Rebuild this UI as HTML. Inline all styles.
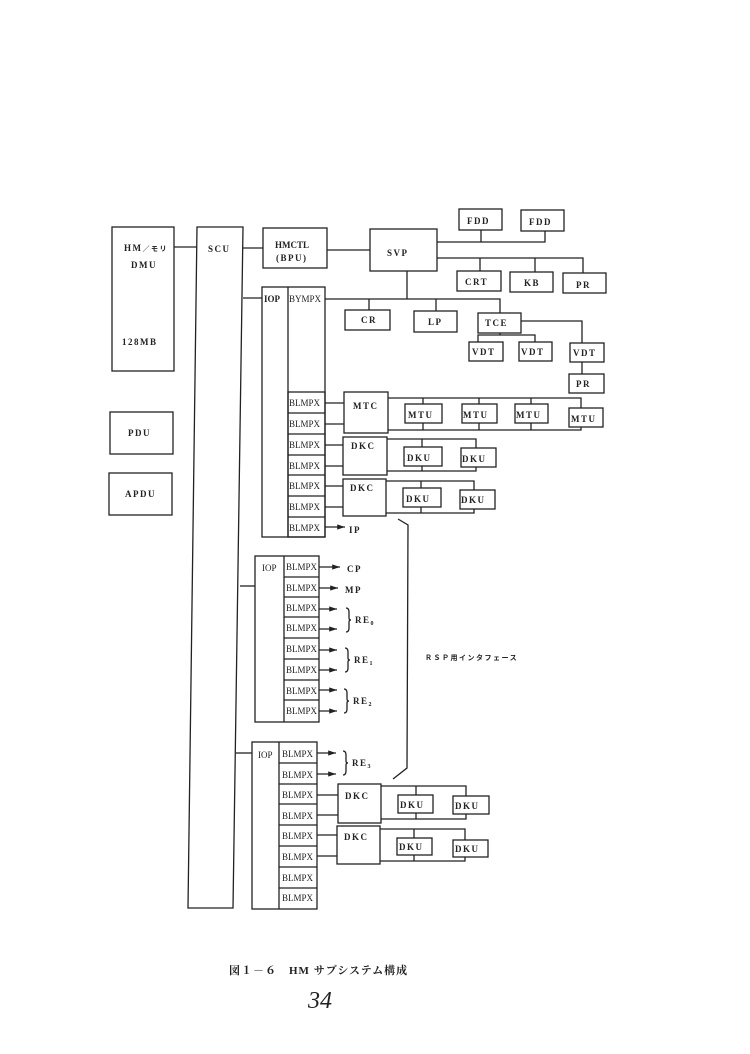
<!DOCTYPE html>
<html><head><meta charset="utf-8"><style>
html,body{margin:0;padding:0;background:#fff;}
svg{display:block;}
text{font-family:"Liberation Serif","Noto Serif CJK SC",serif;font-size:9px;fill:#222;}
.b{font-weight:bold;letter-spacing:1.5px;}
</style></head><body>
<svg width="750" height="1054" viewBox="0 0 750 1054" xmlns="http://www.w3.org/2000/svg">
<defs><marker id="a" markerWidth="6" markerHeight="4" refX="6" refY="2" orient="auto"><path d="M0,0 L6,2 L0,4 z" fill="#222"/></marker></defs>
<g fill="none" stroke="#222" stroke-width="1.3">
<!-- HM -->
<rect x="112" y="227" width="62" height="144"/>
<rect x="110" y="412" width="63" height="42"/>
<rect x="109" y="473" width="63" height="42"/>
<!-- SCU -->
<polygon points="197,227 243,227 233,908 188,908"/>
<line x1="174" y1="247" x2="197" y2="247"/>
<line x1="243" y1="248" x2="263" y2="248"/>
<rect x="263" y="228" width="64" height="40"/>
<line x1="327" y1="250" x2="370" y2="250"/>
<rect x="370" y="229" width="67" height="42"/>
<!-- FDD -->
<rect x="459" y="209" width="43" height="21"/>
<rect x="521" y="210" width="43" height="21"/>
<polyline points="437,242 545,242 545,231"/>
<line x1="481" y1="230" x2="481" y2="242"/>
<!-- CRT KB PR -->
<polyline points="437,258 583,258 583,273"/>
<line x1="480" y1="258" x2="480" y2="271"/>
<line x1="535" y1="258" x2="535" y2="272"/>
<rect x="457" y="271" width="44" height="20"/>
<rect x="510" y="272" width="43" height="20"/>
<rect x="563" y="273" width="43" height="20"/>
<!-- SVP down bus -->
<line x1="407" y1="271" x2="407" y2="299"/>
<polyline points="325,299 500,299 500,313"/>
<line x1="369" y1="299" x2="369" y2="310"/>
<line x1="436" y1="299" x2="436" y2="311"/>
<rect x="345" y="310" width="45" height="20"/>
<rect x="414" y="311" width="43" height="21"/>
<rect x="478" y="313" width="43" height="20"/>
<polyline points="521,321 582,321 582,343"/>
<polyline points="500,333 500,335"/>
<polyline points="478,342 478,335 535,335 535,342"/>
<rect x="469" y="342" width="34" height="19"/>
<rect x="519" y="342" width="33" height="19"/>
<rect x="570" y="343" width="34" height="19"/>
<line x1="582" y1="362" x2="582" y2="374"/>
<rect x="569" y="374" width="35" height="19"/>
<!-- IOP1 -->
<line x1="243" y1="298" x2="262" y2="298"/>
<rect x="262" y="287" width="63" height="250"/>
<line x1="288" y1="287" x2="288" y2="537"/>
<rect x="288" y="392" width="37" height="145"/>
<line x1="288" y1="413" x2="325" y2="413"/>
<line x1="288" y1="434" x2="325" y2="434"/>
<line x1="288" y1="455" x2="325" y2="455"/>
<line x1="288" y1="475" x2="325" y2="475"/>
<line x1="288" y1="496" x2="325" y2="496"/>
<line x1="288" y1="517" x2="325" y2="517"/>
<!-- MTC -->
<line x1="325" y1="403" x2="344" y2="403"/>
<line x1="325" y1="424" x2="344" y2="424"/>
<rect x="344" y="392" width="44" height="41"/>
<polyline points="388,398 581,398 581,408"/>
<polyline points="388,430 581,430 581,427"/>
<line x1="423" y1="398" x2="423" y2="404"/><line x1="423" y1="423" x2="423" y2="430"/>
<line x1="479" y1="398" x2="479" y2="404"/><line x1="479" y1="423" x2="479" y2="430"/>
<line x1="531" y1="398" x2="531" y2="404"/><line x1="531" y1="423" x2="531" y2="430"/>
<rect x="405" y="404" width="37" height="19"/>
<rect x="462" y="404" width="35" height="19"/>
<rect x="515" y="404" width="33" height="19"/>
<rect x="569" y="408" width="34" height="19"/>
<!-- DKC1 -->
<line x1="325" y1="445" x2="343" y2="445"/>
<line x1="325" y1="466" x2="343" y2="466"/>
<rect x="343" y="437" width="44" height="38"/>
<polyline points="387,439 476,439 476,448"/>
<polyline points="387,471 476,471 476,467"/>
<line x1="422" y1="439" x2="422" y2="447"/><line x1="422" y1="466" x2="422" y2="471"/>
<rect x="404" y="447" width="38" height="19"/>
<rect x="461" y="448" width="35" height="19"/>
<!-- DKC2 -->
<line x1="325" y1="486" x2="343" y2="486"/>
<line x1="325" y1="507" x2="343" y2="507"/>
<rect x="343" y="479" width="43" height="37"/>
<polyline points="386,481 474,481 474,490"/>
<polyline points="386,513 474,513 474,509"/>
<line x1="421" y1="481" x2="421" y2="488"/><line x1="421" y1="507" x2="421" y2="513"/>
<rect x="403" y="488" width="38" height="19"/>
<rect x="460" y="490" width="35" height="19"/>
<line x1="325" y1="527" x2="345" y2="527" marker-end="url(#a)"/>
<!-- RSP bracket -->
<polyline points="398,519 408,525 407,768 393,779"/>
<!-- IOP2 -->
<line x1="240" y1="586" x2="255" y2="586"/>
<rect x="255" y="556" width="64" height="166"/>
<line x1="284" y1="556" x2="284" y2="722"/>
<line x1="284" y1="577" x2="319" y2="577"/>
<line x1="284" y1="597" x2="319" y2="597"/>
<line x1="284" y1="617" x2="319" y2="617"/>
<line x1="284" y1="638" x2="319" y2="638"/>
<line x1="284" y1="659" x2="319" y2="659"/>
<line x1="284" y1="680" x2="319" y2="680"/>
<line x1="284" y1="700" x2="319" y2="700"/>
<line x1="319" y1="567" x2="340" y2="567" marker-end="url(#a)"/>
<line x1="319" y1="588" x2="338" y2="588" marker-end="url(#a)"/>
<line x1="319" y1="609" x2="337" y2="609" marker-end="url(#a)"/>
<line x1="319" y1="629" x2="337" y2="629" marker-end="url(#a)"/>
<line x1="319" y1="650" x2="337" y2="650" marker-end="url(#a)"/>
<line x1="319" y1="670" x2="337" y2="670" marker-end="url(#a)"/>
<line x1="319" y1="690" x2="337" y2="690" marker-end="url(#a)"/>
<line x1="319" y1="711" x2="337" y2="711" marker-end="url(#a)"/>
<path d="M346,608 q3,0 3,4 v6 q0,2 2,2 q-2,0 -2,2 v6 q0,4 -3,4"/>
<path d="M345,648 q3,0 3,4 v6 q0,2 2,2 q-2,0 -2,2 v6 q0,4 -3,4"/>
<path d="M344,689 q3,0 3,4 v6 q0,2 2,2 q-2,0 -2,2 v6 q0,4 -3,4"/>
<path d="M343,751 q3,0 3,4 v6 q0,2 2,2 q-2,0 -2,2 v6 q0,4 -3,4"/>
<!-- IOP3 -->
<line x1="236" y1="753" x2="252" y2="753"/>
<rect x="252" y="742" width="65" height="167"/>
<line x1="279" y1="742" x2="279" y2="909"/>
<line x1="279" y1="763" x2="317" y2="763"/>
<line x1="279" y1="784" x2="317" y2="784"/>
<line x1="279" y1="804" x2="317" y2="804"/>
<line x1="279" y1="825" x2="317" y2="825"/>
<line x1="279" y1="846" x2="317" y2="846"/>
<line x1="279" y1="867" x2="317" y2="867"/>
<line x1="279" y1="888" x2="317" y2="888"/>
<line x1="317" y1="753" x2="336" y2="753" marker-end="url(#a)"/>
<line x1="317" y1="774" x2="336" y2="774" marker-end="url(#a)"/>
<!-- DKC3 -->
<line x1="317" y1="795" x2="338" y2="795"/>
<line x1="317" y1="815" x2="338" y2="815"/>
<rect x="338" y="784" width="43" height="39"/>
<polyline points="381,786 466,786 466,796"/>
<polyline points="381,819 466,819 466,814"/>
<line x1="416" y1="786" x2="416" y2="795"/><line x1="416" y1="813" x2="416" y2="819"/>
<rect x="398" y="795" width="35" height="18"/>
<rect x="453" y="796" width="36" height="18"/>
<!-- DKC4 -->
<line x1="317" y1="835" x2="337" y2="835"/>
<line x1="317" y1="856" x2="337" y2="856"/>
<rect x="337" y="826" width="43" height="38"/>
<polyline points="380,829 465,829 465,840"/>
<polyline points="380,861 465,861 465,857"/>
<line x1="414" y1="829" x2="414" y2="838"/><line x1="414" y1="855" x2="414" y2="861"/>
<rect x="397" y="838" width="35" height="17"/>
<rect x="453" y="840" width="35" height="17"/>
</g>
<g class="b">
<text x="124" y="251">HM<tspan font-family="Noto Sans CJK JP" font-size="7">／モリ</tspan></text>
<text x="131" y="268">DMU</text>
<text x="122" y="345">128MB</text>
<text x="128" y="436">PDU</text>
<text x="125" y="497">APDU</text>
<text x="208" y="252">SCU</text>
<text x="275" y="248" style="letter-spacing:0">HMCTL</text>
<text x="276" y="261">(BPU)</text>
<text x="387" y="256">SVP</text>
<text x="467" y="224">FDD</text>
<text x="529" y="225">FDD</text>
<text x="465" y="285">CRT</text>
<text x="524" y="286">KB</text>
<text x="576" y="288">PR</text>
<text x="361" y="323">CR</text>
<text x="428" y="325">LP</text>
<text x="485" y="326">TCE</text>
<text x="472" y="355">VDT</text>
<text x="521" y="355">VDT</text>
<text x="573" y="356">VDT</text>
<text x="576" y="387">PR</text>
<text x="353" y="409">MTC</text>
<text x="408" y="418">MTU</text>
<text x="463" y="418">MTU</text>
<text x="516" y="418">MTU</text>
<text x="571" y="422">MTU</text>
<text x="351" y="449">DKC</text>
<text x="407" y="461">DKU</text>
<text x="462" y="462">DKU</text>
<text x="350" y="491">DKC</text>
<text x="406" y="502">DKU</text>
<text x="461" y="503">DKU</text>
<text x="349" y="533">IP</text>
<text x="345" y="799">DKC</text>
<text x="400" y="808">DKU</text>
<text x="455" y="809">DKU</text>
<text x="344" y="840">DKC</text>
<text x="399" y="850">DKU</text>
<text x="455" y="852">DKU</text>
<text x="347" y="572">CP</text>
<text x="345" y="593">MP</text>
<text x="355" y="623">RE<tspan font-size="6" dy="2">0</tspan></text>
<text x="354" y="663">RE<tspan font-size="6" dy="2">1</tspan></text>
<text x="353" y="704">RE<tspan font-size="6" dy="2">2</tspan></text>
<text x="352" y="766">RE<tspan font-size="6" dy="2">3</tspan></text>
</g>
<g style="font-size:9px">
<text x="264" y="302" class="b" style="letter-spacing:0">IOP</text>
<text x="289" y="302" style="letter-spacing:0">BYMPX</text>
<text x="289" y="406">BLMPX</text><text x="289" y="427">BLMPX</text><text x="289" y="448">BLMPX</text>
<text x="289" y="469">BLMPX</text><text x="289" y="489">BLMPX</text><text x="289" y="510">BLMPX</text><text x="289" y="531">BLMPX</text>
<text x="262" y="571">IOP</text>
<text x="286" y="570">BLMPX</text><text x="286" y="591">BLMPX</text><text x="286" y="611">BLMPX</text>
<text x="286" y="631">BLMPX</text><text x="286" y="652">BLMPX</text><text x="286" y="673">BLMPX</text><text x="286" y="694">BLMPX</text><text x="286" y="714">BLMPX</text>
<text x="258" y="758">IOP</text>
<text x="282" y="757">BLMPX</text><text x="282" y="778">BLMPX</text><text x="282" y="798">BLMPX</text>
<text x="282" y="819">BLMPX</text><text x="282" y="839">BLMPX</text><text x="282" y="860">BLMPX</text><text x="282" y="881">BLMPX</text><text x="282" y="901">BLMPX</text>
</g>
<text x="425" y="660" style="font-family:'Liberation Sans','Noto Sans CJK JP',sans-serif;font-size:7px;font-weight:bold;letter-spacing:1.5px">ＲＳＰ用インタフェース</text>
<text x="229" y="974" style="font-family:'Liberation Serif','Noto Serif CJK SC',serif;font-size:11px;font-weight:bold;letter-spacing:1px">図１－６　HM サブシステム構成</text>
<text x="308" y="1008" style="font-family:'Liberation Serif',serif;font-style:italic;font-size:24px">34</text>
</svg>
</body></html>
